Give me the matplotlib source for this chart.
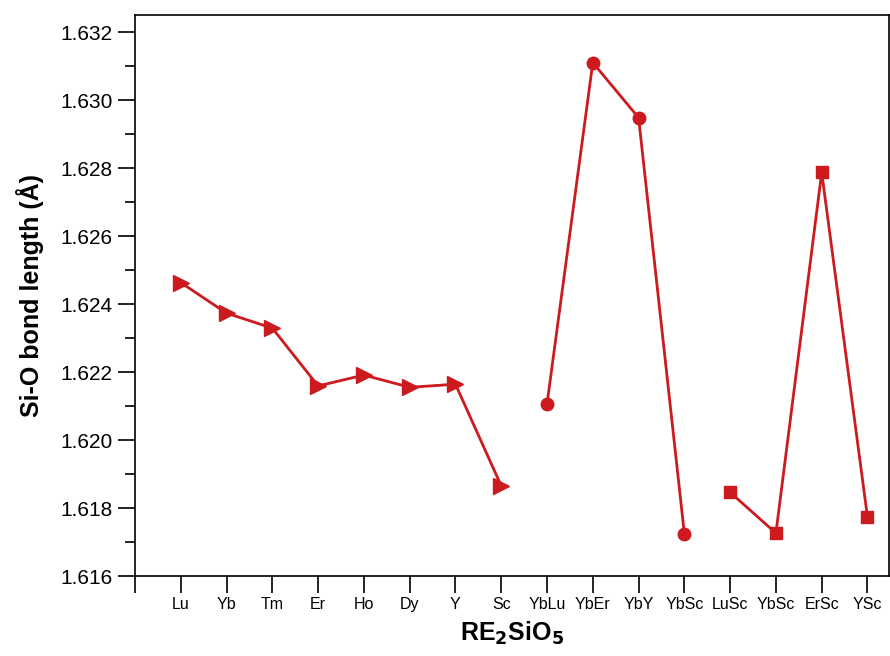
import matplotlib
matplotlib.use("Agg")
import matplotlib.pyplot as plt
from matplotlib.ticker import MultipleLocator, FixedLocator, FormatStrFormatter

plt.rcParams['font.family'] = ['Liberation Sans', 'DejaVu Sans']

tick_labels = ["", "Lu", "Yb", "Tm", "Er", "Ho", "Dy", "Y", "Sc",
               "YbLu", "YbEr", "YbY", "YbSc", "LuSc", "YbSc", "ErSc", "YSc"]

single_x = [1, 2, 3, 4, 5, 6, 7, 8]
single_y = [1.62463, 1.62373, 1.62329, 1.62159, 1.62191, 1.62155, 1.62164, 1.61865]

yb_x = [9, 10, 11, 12]
yb_y = [1.62106, 1.63110, 1.62948, 1.61724]

sc_x = [13, 14, 15, 16]
sc_y = [1.61846, 1.61726, 1.62787, 1.61773]

color = "#CC1A1F"

fig = plt.figure(figsize=(8.9, 6.56), dpi=100)
ax = fig.add_axes([135/890, 80/656, (889-135)/890, (576-15)/656])

ax.plot(single_x, single_y, color=color, lw=2.0, marker='>', ms=11, mec=color, mfc=color)
ax.plot(yb_x, yb_y, color=color, lw=2.0, marker='o', ms=9, mec=color, mfc=color)
ax.plot(sc_x, sc_y, color=color, lw=2.0, marker='s', ms=8.5, mec=color, mfc=color)

ax.set_xlim(0, 16.47)
ax.set_ylim(1.616, 1.616 + 561/34000)

ax.xaxis.set_major_locator(FixedLocator(list(range(len(tick_labels)))))
ax.set_xticklabels(tick_labels)
ax.yaxis.set_major_locator(MultipleLocator(0.002))
ax.yaxis.set_minor_locator(MultipleLocator(0.001))
ax.yaxis.set_major_formatter(FormatStrFormatter('%.3f'))
ax.tick_params(axis='y', which='major', direction='out', length=12, width=1.2, pad=4, labelsize=15)
ax.tick_params(axis='y', which='minor', direction='out', length=7, width=1.2)
ax.tick_params(axis='x', which='major', direction='out', length=12, width=1.2, pad=3, labelsize=11.5)
for s in ax.spines.values():
    s.set_linewidth(1.2)

ax.set_xlabel(r"RE$_\mathbf{2}$SiO$_\mathbf{5}$", fontsize=18, fontweight='bold', labelpad=6)
ax.set_ylabel("Si-O bond length (Å)", fontsize=18, fontweight='bold', labelpad=12)

fig.savefig("out.png", dpi=100)
